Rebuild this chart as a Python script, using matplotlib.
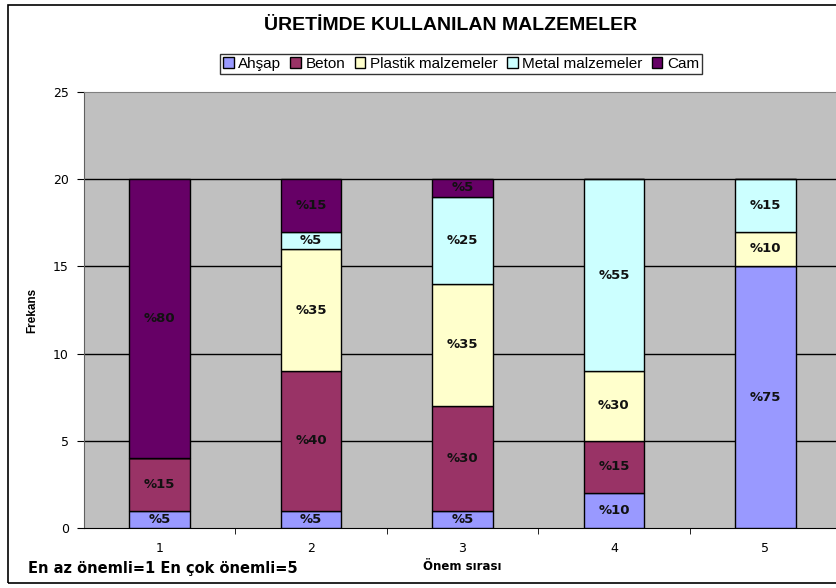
import matplotlib.pyplot as plt
from matplotlib.patches import Rectangle

# data
categories = ['1', '2', '3', '4', '5']
series = ['Ahşap', 'Beton', 'Plastik malzemeler', 'Metal malzemeler', 'Cam']
ahsap = [1, 1, 1, 2, 15]
beton = [3, 8, 6, 3, 0]
plastik = [0, 7, 7, 4, 2]
metal = [0, 1, 5, 11, 3]
cam = [16, 3, 1, 0, 0]
labels_ahsap = ['%5', '%5', '%5', '%10', '%75']
labels_beton = ['%15', '%40', '%30', '%15', '']
labels_plastik = ['', '%35', '%35', '%30', '%10']
labels_metal = ['', '%5', '%25', '%55', '%15']
labels_cam = ['%80', '%15', '%5', '', '']

colors = ['#9999FF', '#993366', '#FFFFCC', '#CCFFFF', '#660066']

fig = plt.figure(figsize=(8.37, 5.88), dpi=100)
# outer chart frame (right side runs off the picture)
fig.patches.append(Rectangle((8 / 837, 5 / 588), 1.0, 578 / 588, transform=fig.transFigure,
                             fill=False, edgecolor='black', linewidth=1.2))

ax = fig.add_axes([84 / 837, 60 / 588, 757 / 837, 436 / 588])
ax.set_facecolor('#C0C0C0')

x = list(range(len(categories)))
values = [ahsap, beton, plastik, metal, cam]
texts = [labels_ahsap, labels_beton, labels_plastik, labels_metal, labels_cam]
bottom = [0] * len(categories)
for name, vals, col, labs in zip(series, values, colors, texts):
    bars = ax.bar(x, vals, width=0.4, bottom=bottom, color=col, edgecolor='black',
                  linewidth=1, label=name, zorder=3)
    for i, b in enumerate(bars):
        if vals[i] > 0 and labs[i]:
            ax.text(b.get_x() + b.get_width() / 2, bottom[i] + vals[i] / 2, labs[i],
                    ha='center', va='center', fontsize=9.5, fontweight='bold',
                    color='#111111', zorder=4)
    bottom = [bb + v for bb, v in zip(bottom, vals)]

ax.set_xlim(-0.5, 4.5)
ax.set_ylim(0, 25)
ax.set_yticks([0, 5, 10, 15, 20, 25])
ax.set_xticks(x)
ax.set_xticklabels(categories)
ax.set_xticks([0.5, 1.5, 2.5, 3.5], minor=True)
ax.tick_params(axis='x', which='major', length=0, pad=10, labelsize=9)
ax.tick_params(axis='x', which='minor', length=4, direction='out')
ax.tick_params(axis='y', length=5, labelsize=9, pad=6)
for v in [5, 10, 15, 20]:
    ax.axhline(v, color='black', linewidth=1, zorder=1)
for s in ['top', 'right']:
    ax.spines[s].set_color('#808080')
ax.spines['left'].set_color('#606060')
ax.spines['bottom'].set_color('black')

fig.text(451 / 837, 1 - 25 / 588, 'ÜRETİMDE KULLANILAN MALZEMELER', ha='center', va='center',
         fontsize=14, fontweight='bold', family='Liberation Sans')
fig.text(32 / 837, 1 - 310 / 588, 'Frekans', rotation=90, ha='center', va='center',
         fontsize=8.5, fontweight='bold', family='Liberation Sans')
fig.text(462 / 837, 1 - 566 / 588, 'Önem sırası', ha='center', va='center',
         fontsize=8.5, fontweight='bold')
fig.text(28 / 837, 1 - 568 / 588, 'En az önemli=1 En çok önemli=5', ha='left', va='center',
         fontsize=10.5, fontweight='bold')

leg = fig.legend(loc='center', bbox_to_anchor=(461 / 837, 1 - 64 / 588), ncol=5,
                 prop={'family': 'Liberation Sans', 'size': 11}, frameon=True,
                 fancybox=False, edgecolor='black',
                 handlelength=0.7, handleheight=0.7, handletextpad=0.3, columnspacing=0.6,
                 borderpad=0.2)
leg.get_frame().set_linewidth(1)

fig.savefig('out.png', dpi=100)
